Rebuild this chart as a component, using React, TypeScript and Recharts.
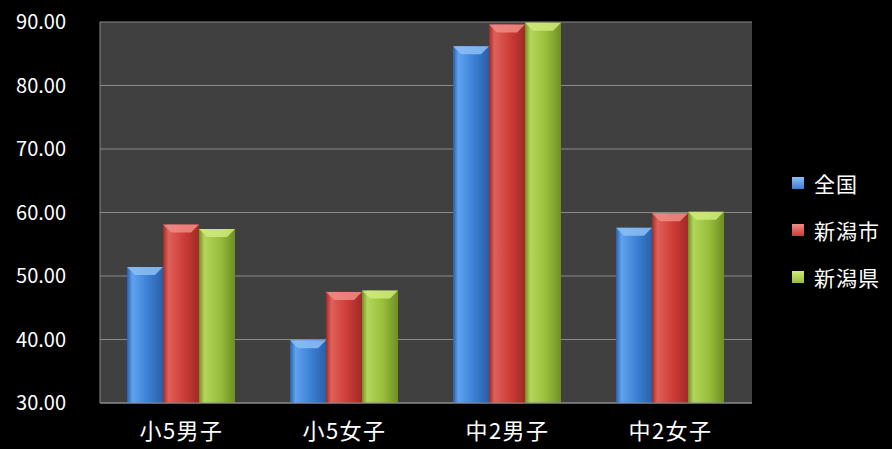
import { BarChart, Bar, XAxis, YAxis, CartesianGrid, Legend } from "recharts";

const categories = ["小5男子", "小5女子", "中2男子", "中2女子"];
const zenkoku = [51.4, 39.9, 86.2, 57.6];
const niigataShi = [58.1, 47.5, 89.6, 59.9];
const niigataKen = [57.4, 47.7, 89.9, 60.1];
const yTicks = [30, 40, 50, 60, 70, 80, 90];

const SERIES = [
  { key: "zenkoku", name: "全国", id: "gBlue", light: "#5fa2ef", base: "#3a7fd3", dark: "#2a5fa8", top: "#8cc0f5" },
  { key: "shi", name: "新潟市", id: "gRed", light: "#e0605a", base: "#cc3c36", dark: "#9e2a26", top: "#f08c86" },
  { key: "ken", name: "新潟県", id: "gGreen", light: "#b4d55a", base: "#97bd3a", dark: "#6f8f24", top: "#d0ea7c" },
];

const FONT = "'Noto Sans CJK JP', 'Noto Sans', sans-serif";

const data = categories.map((name, i) => ({
  name,
  zenkoku: zenkoku[i],
  shi: niigataShi[i],
  ken: niigataKen[i],
}));

const BevelBar = (props: any) => {
  const { x, y, width, height, gradId, topColor } = props;
  if (!height || height <= 0) return null;
  const b = Math.min(8, width / 4);
  return (
    <g>
      <rect x={x} y={y} width={width} height={height} fill={`url(#${gradId})`} />
      <polygon
        points={`${x},${y} ${x + width},${y} ${x + width - b},${y + b} ${x + b},${y + b}`}
        fill={topColor}
        opacity={0.85}
      />
    </g>
  );
};

const LegendBox = () => (
  <div style={{ fontFamily: FONT, color: "#fff", fontSize: 21 }}>
    {SERIES.map((s) => (
      <div key={s.key} style={{ display: "flex", alignItems: "center", height: 47 }}>
        <span
          style={{
            display: "inline-block",
            width: 12,
            height: 12,
            marginRight: 10,
            background: `linear-gradient(180deg, ${s.top}, ${s.base})`,
          }}
        />
        <span style={{ letterSpacing: 1 }}>{s.name}</span>
      </div>
    ))}
  </div>
);

export default function App() {
  return (
    <div style={{ position: "absolute", left: 0, top: 0, width: 892, height: 449, background: "#000" }}>
      <BarChart
        width={892}
        height={449}
        data={data}
        margin={{ top: 22, right: 40, left: 0, bottom: 0 }}
        barCategoryGap={27}
        barGap={0}
      >
        <defs>
          {SERIES.map((s) => (
            <linearGradient key={s.id} id={s.id} x1="0" y1="0" x2="1" y2="0">
              <stop offset="0%" stopColor={s.dark} />
              <stop offset="15%" stopColor={s.light} />
              <stop offset="60%" stopColor={s.base} />
              <stop offset="100%" stopColor={s.dark} />
            </linearGradient>
          ))}
        </defs>
        <CartesianGrid vertical={false} stroke="#8a8a8a" fill="#404040" strokeWidth={1} />
        <XAxis
          dataKey="name"
          height={46}
          tickLine={false}
          axisLine={{ stroke: "#8a8a8a" }}
          tick={{ fill: "#fff", fontSize: 22, fontFamily: FONT, letterSpacing: 1.5 }}
          tickMargin={14}
        />
        <YAxis
          width={100}
          domain={[30, 90]}
          ticks={yTicks}
          interval={0}
          tickLine={false}
          axisLine={{ stroke: "#8a8a8a" }}
          tickFormatter={(v: number) => v.toFixed(2)}
          tick={{ fill: "#fff", fontSize: 20, fontFamily: FONT }}
          tickMargin={28}
        />
        <Legend
          layout="vertical"
          align="right"
          verticalAlign="middle"
          content={<LegendBox />}
          wrapperStyle={{ left: 792, top: 159, width: 100 }}
        />
        {SERIES.map((s) => (
          <Bar
            key={s.key}
            dataKey={s.key}
            name={s.name}
            fill={s.base}
            isAnimationActive={false}
            shape={(p: any) => <BevelBar {...p} gradId={s.id} topColor={s.top} />}
          />
        ))}
      </BarChart>
    </div>
  );
}
